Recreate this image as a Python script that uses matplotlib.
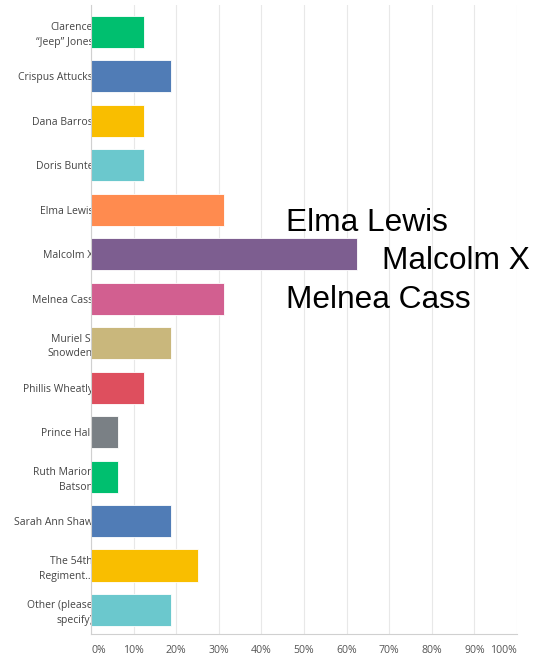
import matplotlib
matplotlib.use("Agg")
import matplotlib.pyplot as plt

categories = ["Clarence\n\u201cJeep\u201d Jones", "Crispus Attucks", "Dana Barros", "Doris Bunte",
              "Elma Lewis", "Malcolm X", "Melnea Cass", "Muriel S.\nSnowden", "Phillis Wheatly",
              "Prince Hall", "Ruth Marion\nBatson", "Sarah Ann Shaw", "The 54th\nRegiment...",
              "Other (please\nspecify)"]
values = [12.5, 18.75, 12.5, 12.5, 31.25, 62.5, 31.25, 18.75, 12.5, 6.25, 6.25, 18.75, 25.0, 18.75]
colors = ["#00BF6F", "#507CB6", "#F9BE00", "#6BC8CD", "#FF8B4F", "#7D5E90", "#D25F90",
          "#C9B77C", "#DE4F5E", "#7A8085", "#00BF6F", "#507CB6", "#F9BE00", "#6BC8CD"]
xticks = list(range(0, 101, 10))
xtick_labels = [f"{t}%" for t in xticks]
annotations = ["Elma Lewis", "Malcolm X", "Melnea Cass"]

fig = plt.figure(figsize=(5.34, 6.56), dpi=100)
ax = fig.add_axes([91/534, 1-634/656, (517-91)/534, (634-5)/656])

ypos = list(range(len(categories)))
ax.barh(ypos, values, height=0.72, color=colors, edgecolor="white", linewidth=0.6, zorder=3)
ax.set_xlim(0, 100)
ax.set_ylim(13.54, -0.6)

ax.set_xticks(xticks)
ax.set_xticklabels(xtick_labels, fontsize=7.6, color="#555555", family="Open Sans")
tl = ax.get_xticklabels()
tl[0].set_horizontalalignment("left")
tl[-1].set_horizontalalignment("right")
ax.tick_params(axis="x", length=0, pad=8)
ax.set_yticks(ypos)
ax.set_yticklabels(categories, fontsize=7.5, color="#444444", family="Open Sans", linespacing=1.45)
ax.tick_params(axis="y", length=0, pad=-1.5)
ax.grid(axis="x", color="#e8e8e8", linewidth=0.8, zorder=0)
for s in ["top", "right"]:
    ax.spines[s].set_visible(False)
ax.spines["left"].set_color("#d0d0d0")
ax.spines["bottom"].set_color("#d0d0d0")
ax.spines["left"].set_zorder(4)

# big annotation texts
ax.text(45.8, 4.3, annotations[0], fontsize=22.8, family="Liberation Sans", color="black", va="center", zorder=5)
ax.text(68.2, 5.15, annotations[1], fontsize=22.8, family="Liberation Sans", color="black", va="center", zorder=5)
ax.text(45.8, 6.03, annotations[2], fontsize=22.8, family="Liberation Sans", color="black", va="center", zorder=5)

fig.savefig("out.png", dpi=100)
